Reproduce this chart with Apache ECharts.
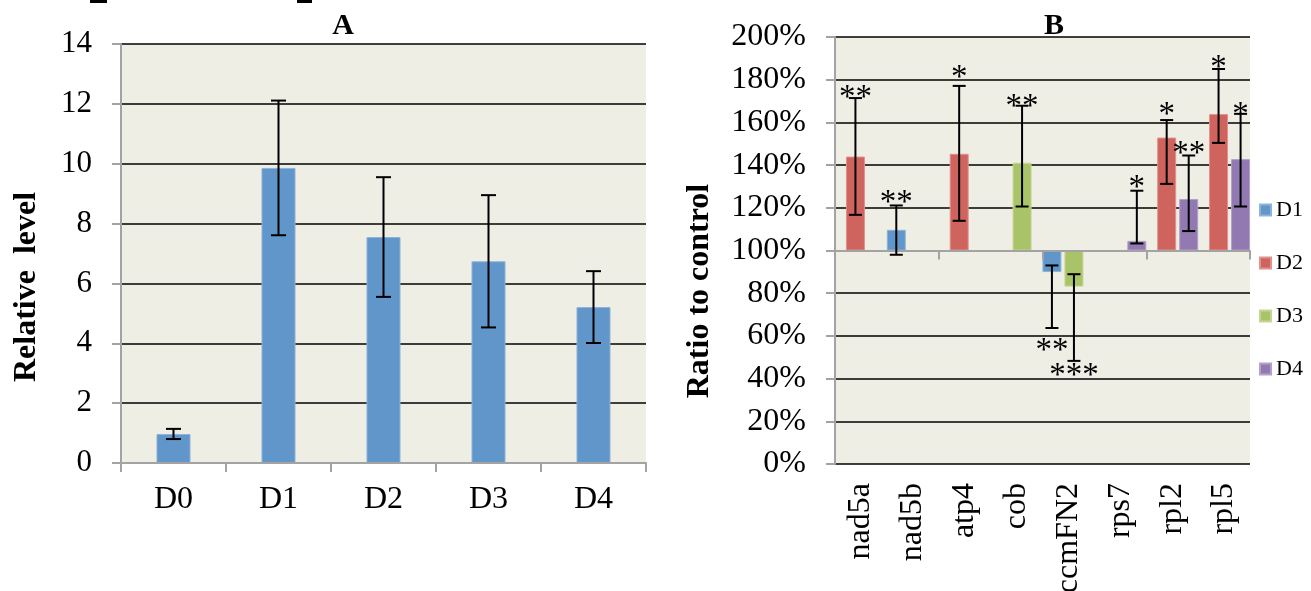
<!DOCTYPE html>
<html>
<head>
<meta charset="utf-8">
<script src="https://cdn.jsdelivr.net/npm/echarts@6/dist/echarts.min.js"></script>
<style>
html,body{margin:0;padding:0;background:#fff;}
#c{width:1311px;height:591px;}
</style>
</head>
<body>
<div id="c"></div>
<script>
// ---------- Chart A data ----------
const aCats = ['D0', 'D1', 'D2', 'D3', 'D4'];
const aValues = [0.97, 9.86, 7.55, 6.74, 5.21];
const aErrors = [0.17, 2.25, 2.0, 2.21, 1.2];

// ---------- Chart B data (percent of control) ----------
const bGenes = ['nad5a', 'nad5b', 'atp4', 'cob', 'ccmFN2', 'rps7', 'rpl2', 'rpl5'];
const bSeriesNames = ['D1', 'D2', 'D3', 'D4'];
const bD1 = [null, 109.7, null, null, 89.9, null, null, null];
const bD2 = [144.0, null, 145.3, null, null, null, 152.9, 163.9];
const bD3 = [null, null, null, 141.1, 83.1, null, null, null];
const bD4 = [null, null, null, null, null, 104.5, 124.1, 142.8];
const bD1High = [null, 121.1, null, null, 93.0, null, null, null];
const bD1Low  = [null, 98.0, null, null, 63.7, null, null, null];
const bD2High = [171.4, null, 177.1, null, null, null, 161.1, 185.0];
const bD2Low  = [116.7, null, 113.9, null, null, null, 131.2, 150.4];
const bD3High = [null, null, null, 167.8, 88.9, null, null, null];
const bD3Low  = [null, null, null, 120.6, 48.3, null, null, null];
const bD4High = [null, null, null, null, null, 128.0, 144.5, 164.0];
const bD4Low  = [null, null, null, null, null, 103.3, 109.1, 120.6];
const bD1Stars = ['', '**', '', '', '**', '', '', ''];
const bD1StarAt = [null, 124.7, null, null, 55.4, null, null, null];
const bD2Stars = ['**', '', '*', '', '', '', '*', '*'];
const bD2StarAt = [173.9, null, 183.4, null, null, null, 166.2, 188.0];
const bD3Stars = ['', '', '', '**', '***', '', '', ''];
const bD3StarAt = [null, null, null, 169.8, 43.8, null, null, null];
const bD4Stars = ['', '', '', '', '', '*', '**', '*'];
const bD4StarAt = [null, null, null, null, null, 131.8, 148.0, 166.2];
const bYTicks = [0, 20, 40, 60, 80, 100, 120, 140, 160, 180, 200];

const colors = ['#6196CA', '#CF635E', '#A9C468', '#9279B1'];
const borders = ['#8DB3DB', '#E0928E', '#C3D694', '#B2A1C9'];
const SERIF = '"Liberation Serif", "Times New Roman", serif';
const BASE = 100; // bars in B grow from 100%

const bValues = [bD1, bD2, bD3, bD4];
const bHighs = [bD1High, bD2High, bD3High, bD4High];
const bLows = [bD1Low, bD2Low, bD3Low, bD4Low];
const bStars = [bD1Stars, bD2Stars, bD3Stars, bD4Stars];
const bStarAt = [bD1StarAt, bD2StarAt, bD3StarAt, bD4StarAt];

// B bar layout parameters
const B_BAR_W = 0.366;   // fraction of band
const B_BAR_GAP = -0.42; // fraction of bar width
function bOffset(si) {
  const step = B_BAR_W * (1 + B_BAR_GAP);
  const total = 4 * B_BAR_W + 3 * B_BAR_W * B_BAR_GAP;
  return -total / 2 + B_BAR_W / 2 + si * step;
}

// error bar data
const aErrData = aCats.map((c, i) => [i, aValues[i] - aErrors[i], aValues[i] + aErrors[i]]);
const bErrData = [];
const bStarData = [];
const bStarText = [];
for (let s = 0; s < 4; s++) {
  for (let i = 0; i < bGenes.length; i++) {
    if (bHighs[s][i] != null) bErrData.push([i, s, bLows[s][i] - BASE, bHighs[s][i] - BASE]);
    if (bStars[s][i]) { bStarData.push([i, s, bStarAt[s][i] - BASE]); bStarText.push(bStars[s][i]); }
  }
}

function errRenderer(capHalf, getOffset) {
  return function (params, api) {
    const cat = api.value(0);
    const off = getOffset(api);
    const bw = api.size([1, 0])[0];
    const lo = api.coord([cat, api.value(getOffset.loDim)]);
    const hi = api.coord([cat, api.value(getOffset.hiDim)]);
    const x = lo[0] + off * bw;
    const st = { stroke: '#000', lineWidth: 2 };
    return {
      type: 'group',
      children: [
        { type: 'line', shape: { x1: x, y1: hi[1], x2: x, y2: lo[1] }, style: st },
        { type: 'line', shape: { x1: x - capHalf, y1: hi[1], x2: x + capHalf, y2: hi[1] }, style: st },
        { type: 'line', shape: { x1: x - capHalf, y1: lo[1], x2: x + capHalf, y2: lo[1] }, style: st }
      ]
    };
  };
}
const aOff = function () { return 0; }; aOff.loDim = 1; aOff.hiDim = 2;
const bOff = function (api) { return bOffset(api.value(1)); }; bOff.loDim = 2; bOff.hiDim = 3;

const chart = echarts.init(document.getElementById('c'), null, { renderer: 'canvas' });

const gridLineStyle = { color: '#000', width: 1.6 };
const axisGray = { color: '#A3A3A3', width: 2 };

const option = {
  animation: false,
  backgroundColor: '#fff',
  title: [
    { text: 'A', left: 338, top: 6, textAlign: 'center', textStyle: { fontFamily: SERIF, fontSize: 30, fontWeight: 'bold', color: '#000' } },
    { text: 'B', left: 1049, top: 6, textAlign: 'center', textStyle: { fontFamily: SERIF, fontSize: 30, fontWeight: 'bold', color: '#000' } }
  ],
  legend: {
    data: bSeriesNames,
    orient: 'vertical',
    left: 1259,
    top: 199,
    padding: 0,
    itemWidth: 11,
    itemHeight: 11,
    itemGap: 31,
    icon: 'rect',
    textStyle: { fontFamily: SERIF, fontSize: 22, color: '#000', lineHeight: 22 }
  },
  grid: [
    { left: 121, right: 665, top: 44, bottom: 128, show: true, backgroundColor: '#EFEEE5', borderWidth: 0, containLabel: false, outerBoundsMode: 'none' },
    { left: 835, right: 61, top: 37, bottom: 127, show: true, backgroundColor: '#EFEEE5', borderWidth: 0, containLabel: false, outerBoundsMode: 'none' }
  ],
  xAxis: [
    {
      gridIndex: 0, type: 'category', data: aCats, z: 5,
      axisLine: { lineStyle: axisGray },
      axisTick: { show: true, length: 9, lineStyle: axisGray },
      axisLabel: { fontFamily: SERIF, fontSize: 32, color: '#000', margin: 21 }
    },
    {
      gridIndex: 1, type: 'category', data: bGenes, z: 5,
      axisLine: { onZero: true, lineStyle: axisGray },
      axisTick: { show: true, length: 9, lineStyle: axisGray },
      axisLabel: { show: false }
    },
    {
      gridIndex: 1, type: 'category', data: bGenes, position: 'bottom',
      axisLine: { show: false, onZero: false },
      axisTick: { show: false },
      axisLabel: { fontFamily: SERIF, fontSize: 32, color: '#000', margin: 19, rotate: 90 }
    }
  ],
  yAxis: [
    {
      gridIndex: 0, type: 'value', min: 0, max: 14, interval: 2,
      axisLine: { show: true, lineStyle: axisGray },
      axisTick: { show: true, length: 9, lineStyle: axisGray },
      axisLabel: { fontFamily: SERIF, fontSize: 31, color: '#000', margin: 29 },
      splitLine: { show: true, lineStyle: gridLineStyle }
    },
    {
      gridIndex: 1, type: 'value', min: bYTicks[0] - BASE, max: bYTicks[bYTicks.length - 1] - BASE, interval: 20,
      axisLine: { show: true, lineStyle: axisGray },
      axisTick: { show: true, length: 9, lineStyle: axisGray },
      axisLabel: { fontFamily: SERIF, fontSize: 32, color: '#000', margin: 29, formatter: v => (v + BASE) + '%' },
      splitLine: { show: true, lineStyle: gridLineStyle }
    }
  ],
  graphic: [
    { type: 'text', x: 27, y: 287, rotation: Math.PI / 2,
      style: { text: 'Relative  level', font: 'bold 32px ' + SERIF, fill: '#000', align: 'center', verticalAlign: 'middle' } },
    { type: 'text', x: 700, y: 291, rotation: Math.PI / 2,
      style: { text: 'Ratio to control', font: 'bold 32px ' + SERIF, fill: '#000', align: 'center', verticalAlign: 'middle' } },
    { type: 'rect', shape: { x: 90, y: 0, width: 17, height: 3 }, style: { fill: '#000' } },
    { type: 'rect', shape: { x: 297, y: 0, width: 15, height: 3 }, style: { fill: '#000' } }
  ],
  series: [
    {
      type: 'bar', xAxisIndex: 0, yAxisIndex: 0, data: aValues, barWidth: '32.4%',
      itemStyle: { color: colors[0], borderColor: borders[0], borderWidth: 1 }, z: 3
    },
    {
      type: 'custom', xAxisIndex: 0, yAxisIndex: 0, data: aErrData, z: 10,
      encode: { x: 0, y: [1, 2] },
      renderItem: errRenderer(7.5, aOff)
    }
  ].concat(bSeriesNames.map((name, s) => ({
    name: name, type: 'bar', xAxisIndex: 1, yAxisIndex: 1,
    data: bValues[s].map(v => v == null ? '-' : v - BASE),
    barWidth: (B_BAR_W * 100) + '%', barGap: (B_BAR_GAP * 100) + '%',
    itemStyle: { color: colors[s], borderColor: borders[s], borderWidth: 1 }, z: 3
  }))).concat([
    {
      type: 'custom', xAxisIndex: 1, yAxisIndex: 1, data: bErrData, z: 10,
      encode: { x: 0, y: [2, 3] },
      renderItem: errRenderer(6.5, bOff)
    },
    {
      type: 'custom', xAxisIndex: 1, yAxisIndex: 1, data: bStarData, z: 11,
      encode: { x: 0, y: 2 },
      renderItem: function (params, api) {
        const cat = api.value(0), si = api.value(1);
        const p = api.coord([cat, api.value(2)]);
        const bw = api.size([1, 0])[0];
        return {
          type: 'text', x: p[0] + bOffset(si) * bw, y: p[1] + 6,
          style: { text: bStarText[params.dataIndex], font: '33px ' + SERIF, fill: '#000', align: 'center', verticalAlign: 'middle' }
        };
      }
    }
  ])
};
chart.setOption(option);
</script>
</body>
</html>
